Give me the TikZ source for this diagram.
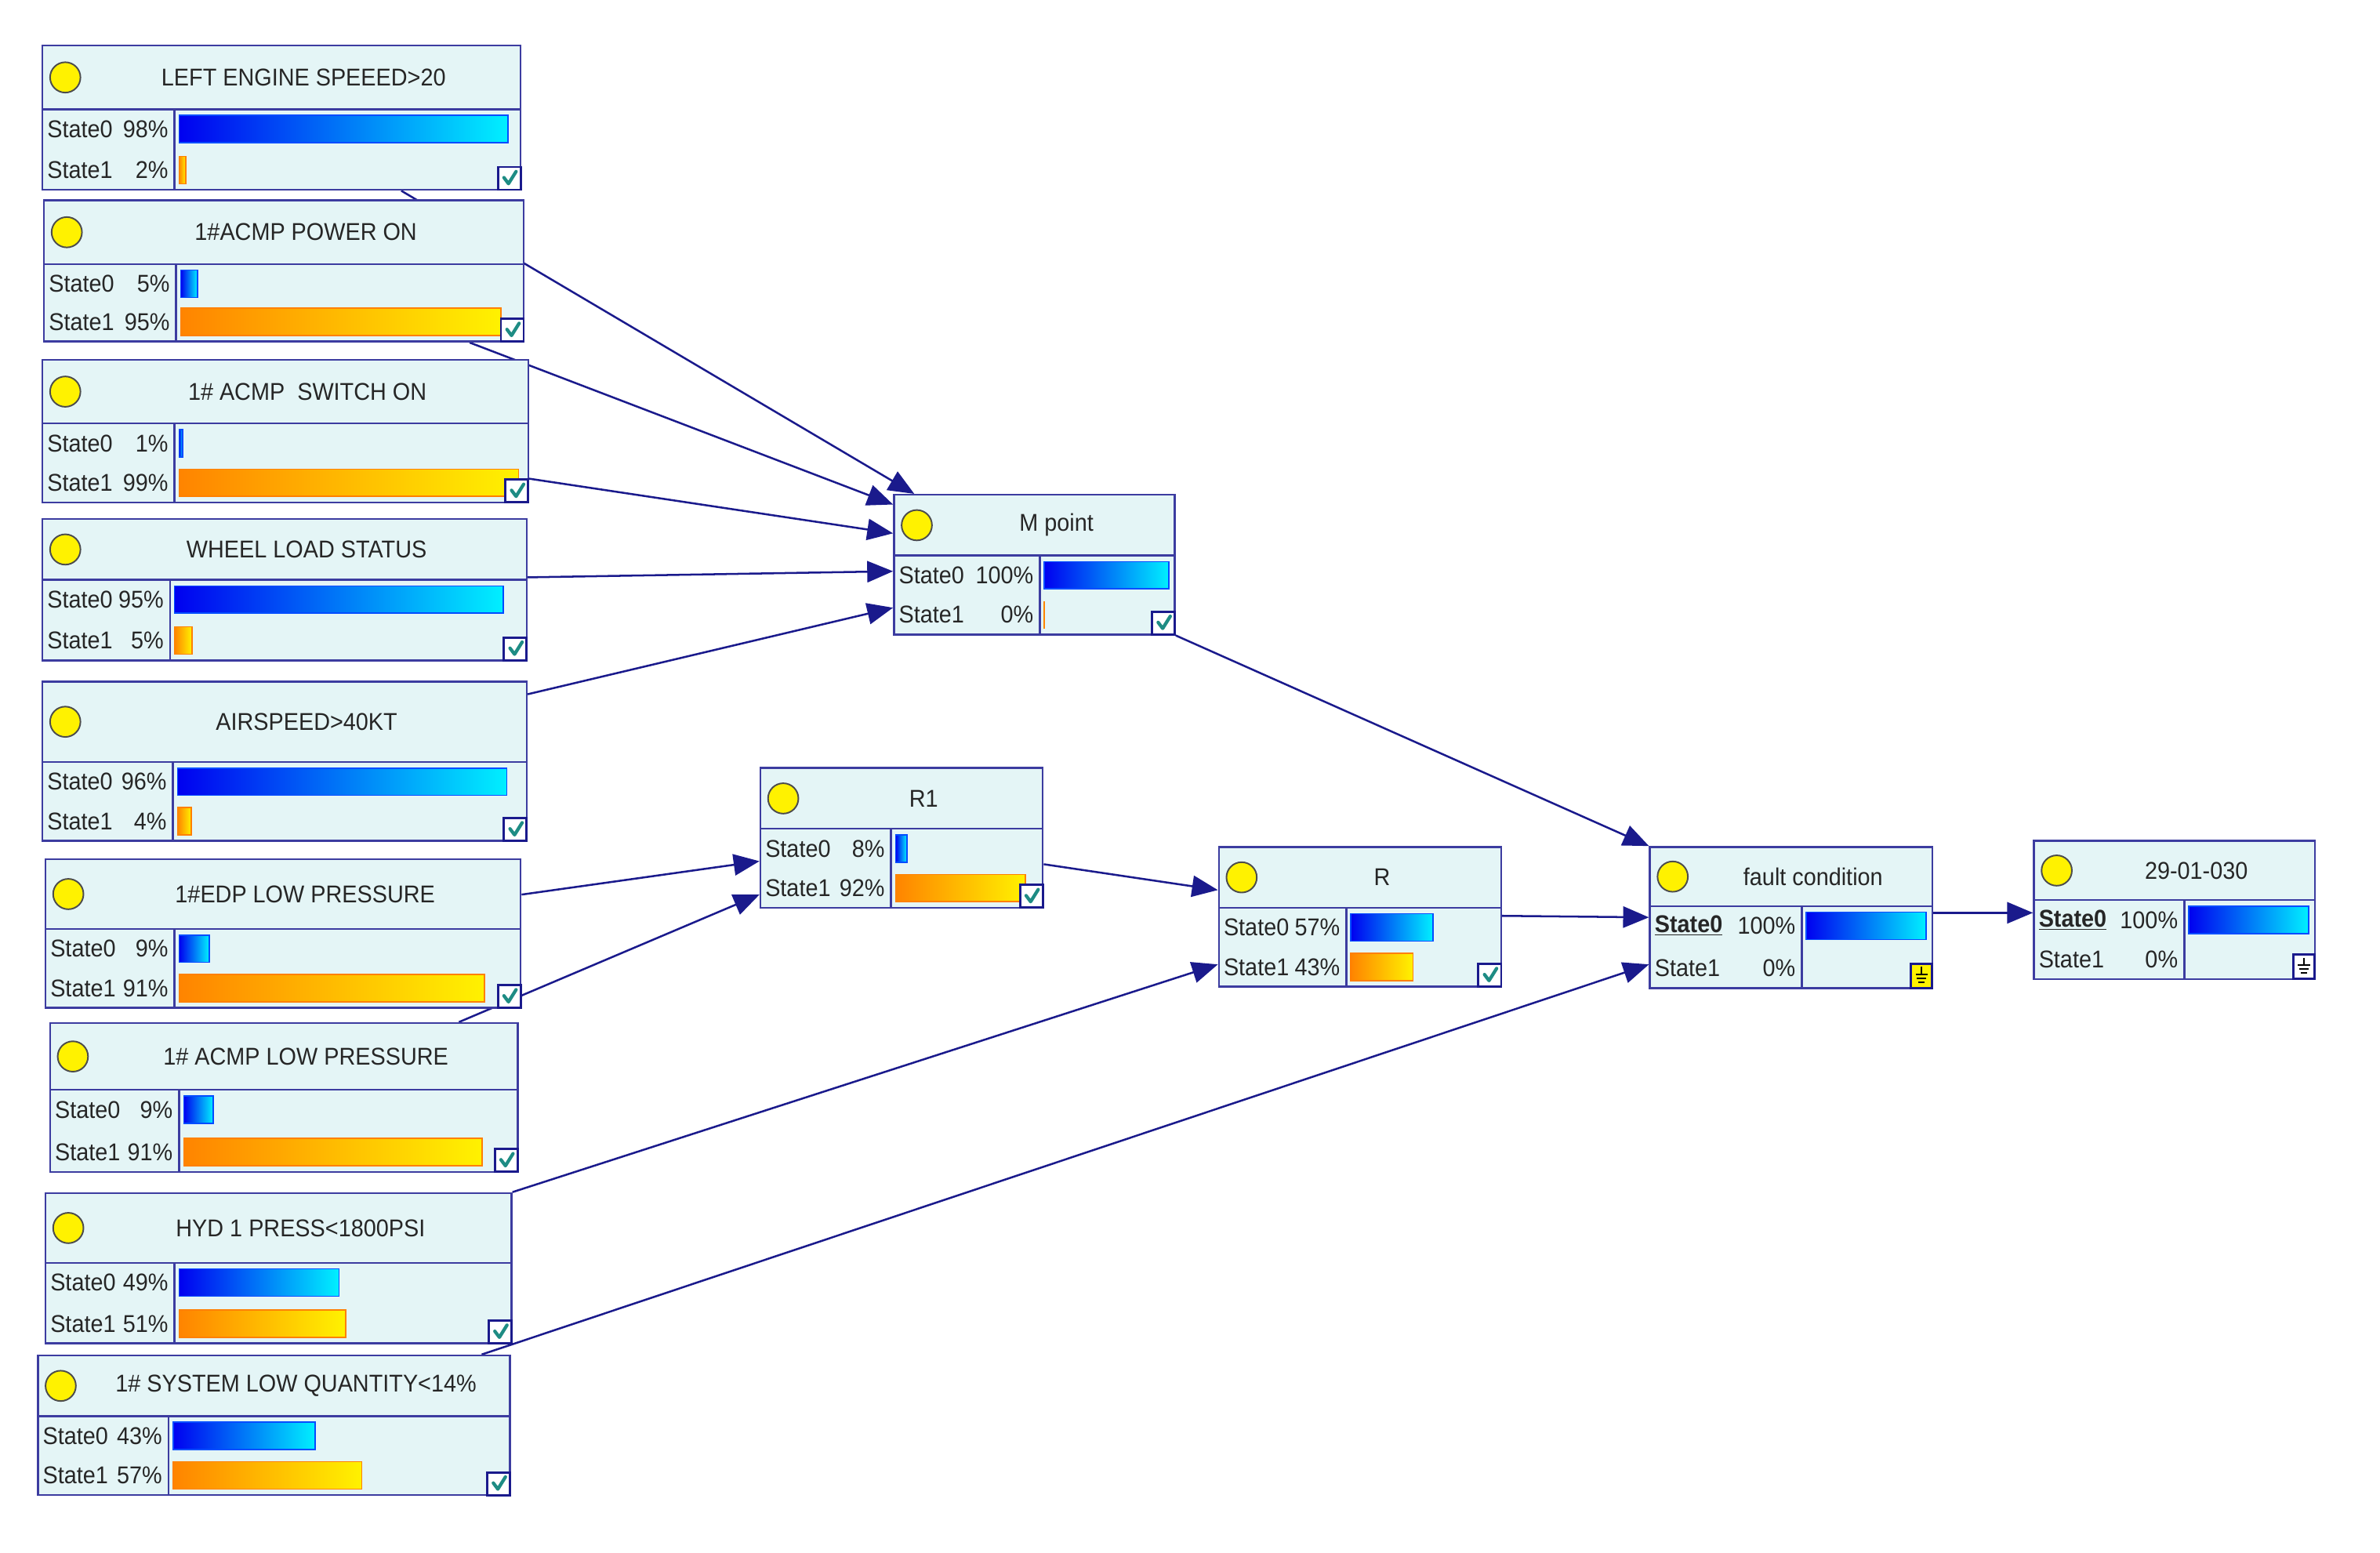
\documentclass[tikz,border=0pt]{standalone}
\usepackage{fontspec}
\setmainfont{Liberation Sans}[FakeStretch=0.93]
\usetikzlibrary{arrows.meta,calc,fit}
\definecolor{nfill}{HTML}{E4F5F6}
\definecolor{nline}{HTML}{3C3CA0}
\definecolor{eline}{HTML}{1A1A8C}
\definecolor{bblue}{HTML}{0000F0}
\definecolor{bcyan}{HTML}{00F0FF}
\definecolor{borange}{HTML}{FF8400}
\definecolor{byellow}{HTML}{FFF200}
\definecolor{chk}{HTML}{1E8C84}
\pgfdeclarelayer{canvas}
\pgfdeclarelayer{background}
\pgfsetlayers{canvas,background,main}
\tikzset{
  bnframe/.style={draw=nline, line width=1.3pt, fill=nfill, inner sep=0pt},
  bnline/.style={draw=nline, line width=1.3pt},
  edge/.style={draw=eline, line width=1.3pt, -{Triangle[length=17pt,width=14pt]}},
  txt/.style={font=\fontsize{16}{19}\selectfont, inner sep=0pt, text=black!85},
  bluebar/.style={left color=bblue, right color=bcyan, draw=blue!70!cyan, line width=0.8pt},
  orangebar/.style={left color=borange, right color=byellow, draw=orange, line width=0.8pt},
  lamp/.style={fill=yellow, draw=black!70, line width=1pt},
  iconbox/.style={draw=eline, line width=1.5pt},
}
\newcommand\bnplain[1]{#1}
\newcommand\bnbold[1]{\underline{\textbf{#1}}}
% name, x1, y1, x2, y2, yh, xd, title
\newcommand\bnbox[8]{%
  \node[bnframe, fit={(#2,#3) (#4,#5)}] (#1) {};
  \draw[bnline] (#2,#6) -- (#4,#6);
  \draw[bnline] (#7,#6) -- (#7,#5);
  \filldraw[lamp] ({#2+15},{(#3+#6)/2}) circle (10);
  \node[txt] at ({(#2+29+#4)/2},{(#3+#6)/2}) {#8};
}
% x1, xd, x2, yh, y2, p0, p1, state0 format
\newcommand\bnrows[8]{%
  \node[txt, anchor=west] at ({#1+3},{#4+13}) {#8{State0}};
  \node[txt, anchor=east] at ({#2-4},{#4+13}) {#6\%};
  \node[txt, anchor=west] at ({#1+3},{#5-13}) {State1};
  \node[txt, anchor=east] at ({#2-4},{#5-13}) {#7\%};
  \pgfmathsetmacro\La{#6/100*(#3-#2-7)}%
  \pgfmathsetmacro\Lb{#7/100*(#3-#2-7)}%
  \ifdim\La pt>0.5pt \shade[bluebar] ({#2+3},{#4+4}) rectangle ++(\La,18);\fi
  \ifdim\Lb pt>0.5pt \shade[orangebar] ({#2+3},{#5-22}) rectangle ++(\Lb,18);\fi
}
% x2, y2
\newcommand\bncheck[2]{%
  \filldraw[iconbox, fill=white] ({#1-15},{#2-15}) rectangle ({#1},{#2});
  \draw[chk, line width=2.2pt, line cap=round, line join=round] ({#1-11},{#2-8}) -- ({#1-8},{#2-4}) -- ({#1-3},{#2-12});
}
% x2, y2, fill
\newcommand\bnground[3]{%
  \filldraw[iconbox, fill=#3] ({#1-14},{#2-16}) rectangle ({#1},{#2});
  \draw[black, line width=1pt] ({#1-7},{#2-14}) -- ({#1-7},{#2-9});
  \draw[black, line width=1pt] ({#1-11},{#2-9}) -- ({#1-3},{#2-9});
  \draw[black, line width=1pt] ({#1-10},{#2-6.5}) -- ({#1-4},{#2-6.5});
  \draw[black, line width=1pt] ({#1-9},{#2-4}) -- ({#1-5},{#2-4});
}
\begin{document}
\begin{tikzpicture}[x=1pt, y=-1pt]
\useasboundingbox (0,0) rectangle (1568,1023);
\begin{pgfonlayer}{canvas}
\fill[white] (0,0) rectangle (1568,1023);
\end{pgfonlayer}

\bnbox{A}{28}{30}{343}{125}{72}{115}{LEFT ENGINE SPEEED>20}
\bnrows{28}{115}{343}{72}{125}{98}{2}{\bnplain}
\bncheck{343}{125}

\bnbox{B}{29}{132}{345}{225}{174}{116}{1\#ACMP POWER ON}
\bnrows{29}{116}{345}{174}{225}{5}{95}{\bnplain}
\bncheck{345}{225}

\bnbox{C}{28}{237}{348}{331}{279}{115}{1\# ACMP\ \ SWITCH ON}
\bnrows{28}{115}{348}{279}{331}{1}{99}{\bnplain}
\bncheck{348}{331}

\bnbox{D}{28}{342}{347}{435}{382}{112}{WHEEL LOAD STATUS}
\bnrows{28}{112}{347}{382}{435}{95}{5}{\bnplain}
\bncheck{347}{435}

\bnbox{E}{28}{449}{347}{554}{502}{114}{AIRSPEED>40KT}
\bnrows{28}{114}{347}{502}{554}{96}{4}{\bnplain}
\bncheck{347}{554}

\bnbox{F}{30}{566}{343}{664}{612}{115}{1\#EDP LOW PRESSURE}
\bnrows{30}{115}{343}{612}{664}{9}{91}{\bnplain}
\bncheck{343}{664}

\bnbox{G}{33}{674}{341}{772}{718}{118}{1\# ACMP LOW PRESSURE}
\bnrows{33}{118}{341}{718}{772}{9}{91}{\bnplain}
\bncheck{341}{772}

\bnbox{H}{30}{786}{337}{885}{832}{115}{HYD 1 PRESS<1800PSI}
\bnrows{30}{115}{337}{832}{885}{49}{51}{\bnplain}
\bncheck{337}{885}

\bnbox{I}{25}{893}{336}{985}{933}{111}{1\# SYSTEM LOW QUANTITY<14\%}
\bnrows{25}{111}{336}{933}{985}{43}{57}{\bnplain}
\bncheck{336}{985}

\bnbox{M}{589}{326}{774}{418}{366}{685}{M point}
\bnrows{589}{685}{774}{366}{418}{100}{0}{\bnplain}
\draw[borange, line width=1pt] (688,396) -- (688,414);
\bncheck{774}{418}

\bnbox{R1}{501}{506}{687}{598}{546}{587}{R1}
\bnrows{501}{587}{687}{546}{598}{8}{92}{\bnplain}
\bncheck{687}{598}

\bnbox{R}{803}{558}{989}{650}{598}{887}{R}
\bnrows{803}{887}{989}{598}{650}{57}{43}{\bnplain}
\bncheck{989}{650}

\bnbox{FC}{1087}{558}{1273}{651}{597}{1187}{fault condition}
\bnrows{1087}{1187}{1273}{597}{651}{100}{0}{\bnbold}
\bnground{1273}{651}{yellow}

\bnbox{T}{1340}{554}{1525}{645}{593}{1439}{29-01-030}
\bnrows{1340}{1439}{1525}{593}{645}{100}{0}{\bnbold}
\bnground{1525}{645}{white}

\begin{pgfonlayer}{background}
\draw[edge] ($(A.south west)+(237,0)$) -- ($(M.north west)+(14,0)$);
\draw[edge] ($(B.south west)+(281,0)$) -- ($(M.north west)+(0,7)$);
\draw[edge] ($(C.north east)+(0,79)$) -- ($(M.north west)+(0,26)$);
\draw[edge] ($(D.north east)+(0,39)$) -- ($(M.north west)+(0,51)$);
\draw[edge] ($(E.north east)+(0,9)$) -- ($(M.north west)+(0,75)$);
\draw[edge] (M.south east) -- (FC.north west);
\draw[edge] ($(F.north east)+(0,24)$) -- ($(R1.north west)+(0,62)$);
\draw[edge] ($(G.north west)+(270,0)$) -- ($(R1.north west)+(0,84)$);
\draw[edge] ($(R1.north east)+(0,64)$) -- ($(R.north west)+(0,29)$);
\draw[edge] (H.north east) -- ($(R.north west)+(0,78)$);
\draw[edge] ($(I.north west)+(293,0)$) -- ($(FC.north west)+(0,78)$);
\draw[edge] ($(R.north east)+(0,46)$) -- ($(FC.north west)+(0,47)$);
\draw[edge] ($(FC.north east)+(0,44)$) -- ($(T.north west)+(0,48)$);
\end{pgfonlayer}
\end{tikzpicture}
\end{document}
